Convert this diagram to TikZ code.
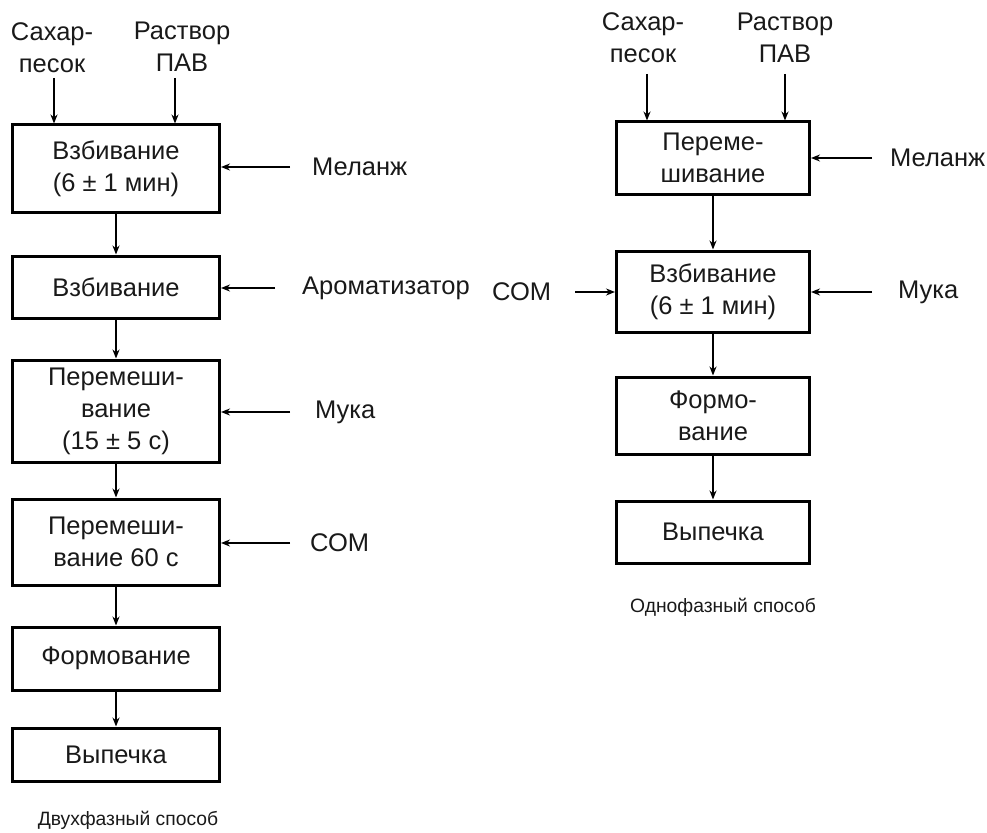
\documentclass[tikz,border=0pt]{standalone}
\usepackage{fontspec}
\setmainfont{Liberation Sans}
\usetikzlibrary{arrows.meta}
\begin{document}
\begin{tikzpicture}[x=1pt,y=-1pt,
  every node/.style={inner sep=0pt, font=\fontsize{25.5}{32}\selectfont, text=black!90},
  stage/.style={draw, line width=3pt, align=center},
  lstage/.style={stage, minimum width=207pt},
  rstage/.style={stage, minimum width=193pt},
  feed/.style={align=center},
  flow/.style={line width=2.6pt, -{Stealth[length=9pt,width=7pt]}},
  caption/.style={font=\fontsize{19.3}{22}\selectfont}]
\useasboundingbox (0,0) rectangle (987,832);

% ---- two-phase method ----
\node[lstage, minimum height=87pt]  (L1) at (116,168.5) {Взбивание\\(6 ± 1 мин)};
\node[lstage, minimum height=62pt]  (L2) at (116,287)   {Взбивание};
\node[lstage, minimum height=102pt] (L3) at (116,411)   {Перемеши-\\вание\\(15 ± 5 с)};
\node[lstage, minimum height=86pt]  (L4) at (116,542)   {Перемеши-\\вание 60 с};
\node[lstage, minimum height=63pt]  (L5) at (116,658.5) {Формование};
\node[lstage, minimum height=53pt]  (L6) at (116,754.5) {Выпечка};

\node[feed] (LS) at (52,48) {Сахар-\\песок};
\node[feed] (LP) at (182,47) {Раствор\\ПАВ};
\coordinate (LSa) at (54,78);
\coordinate (LPa) at (175,78);
\draw[flow] (LSa) -- (LSa |- L1.north);
\draw[flow] (LPa) -- (LPa |- L1.north);

\node[anchor=west] (LM)  at (312,167) {Меланж};
\node[anchor=west] (LA)  at (302,288) {Ароматизатор};
\node[anchor=west] (LF)  at (315,412) {Мука};
\node[anchor=west] (LC)  at (310,543) {СОМ};
\coordinate (LMa) at (290,167);
\coordinate (LAa) at (275,288);
\coordinate (LFa) at (290,412);
\coordinate (LCa) at (290,543);
\draw[flow] (LMa) -- (LMa -| L1.east);
\draw[flow] (LAa) -- (LAa -| L2.east);
\draw[flow] (LFa) -- (LFa -| L3.east);
\draw[flow] (LCa) -- (LCa -| L4.east);

\draw[flow] (L1.south) -- (L2.north);
\draw[flow] (L2.south) -- (L3.north);
\draw[flow] (L3.south) -- (L4.north);
\draw[flow] (L4.south) -- (L5.north);
\draw[flow] (L5.south) -- (L6.north);

\node[caption] (capL) at (128,820) {Двухфазный способ};

% ---- one-phase method ----
\node[rstage, minimum height=72pt] (R1) at (713,158)   {Переме-\\шивание};
\node[rstage, minimum height=81pt] (R2) at (713,291.5) {Взбивание\\(6 ± 1 мин)};
\node[rstage, minimum height=77pt] (R3) at (713,415.5) {Формо-\\вание};
\node[rstage, minimum height=62pt] (R4) at (713,532)   {Выпечка};

\node[feed] (RS) at (643,38) {Сахар-\\песок};
\node[feed] (RP) at (785,38) {Раствор\\ПАВ};
\coordinate (RSa) at (647,74);
\coordinate (RPa) at (785,74);
\draw[flow] (RSa) -- (RSa |- R1.north);
\draw[flow] (RPa) -- (RPa |- R1.north);

\node[anchor=west] (RM) at (890,158) {Меланж};
\node[anchor=west] (RF) at (898,292) {Мука};
\node[anchor=west] (RC) at (492,292) {СОМ};
\coordinate (RMa) at (872,158);
\coordinate (RFa) at (872,292);
\coordinate (RCa) at (575,292);
\draw[flow] (RMa) -- (RMa -| R1.east);
\draw[flow] (RFa) -- (RFa -| R2.east);
\draw[flow] (RCa) -- (RCa -| R2.west);

\draw[flow] (R1.south) -- (R2.north);
\draw[flow] (R2.south) -- (R3.north);
\draw[flow] (R3.south) -- (R4.north);

\node[caption] (capR) at (723,607) {Однофазный способ};
\end{tikzpicture}
\end{document}
